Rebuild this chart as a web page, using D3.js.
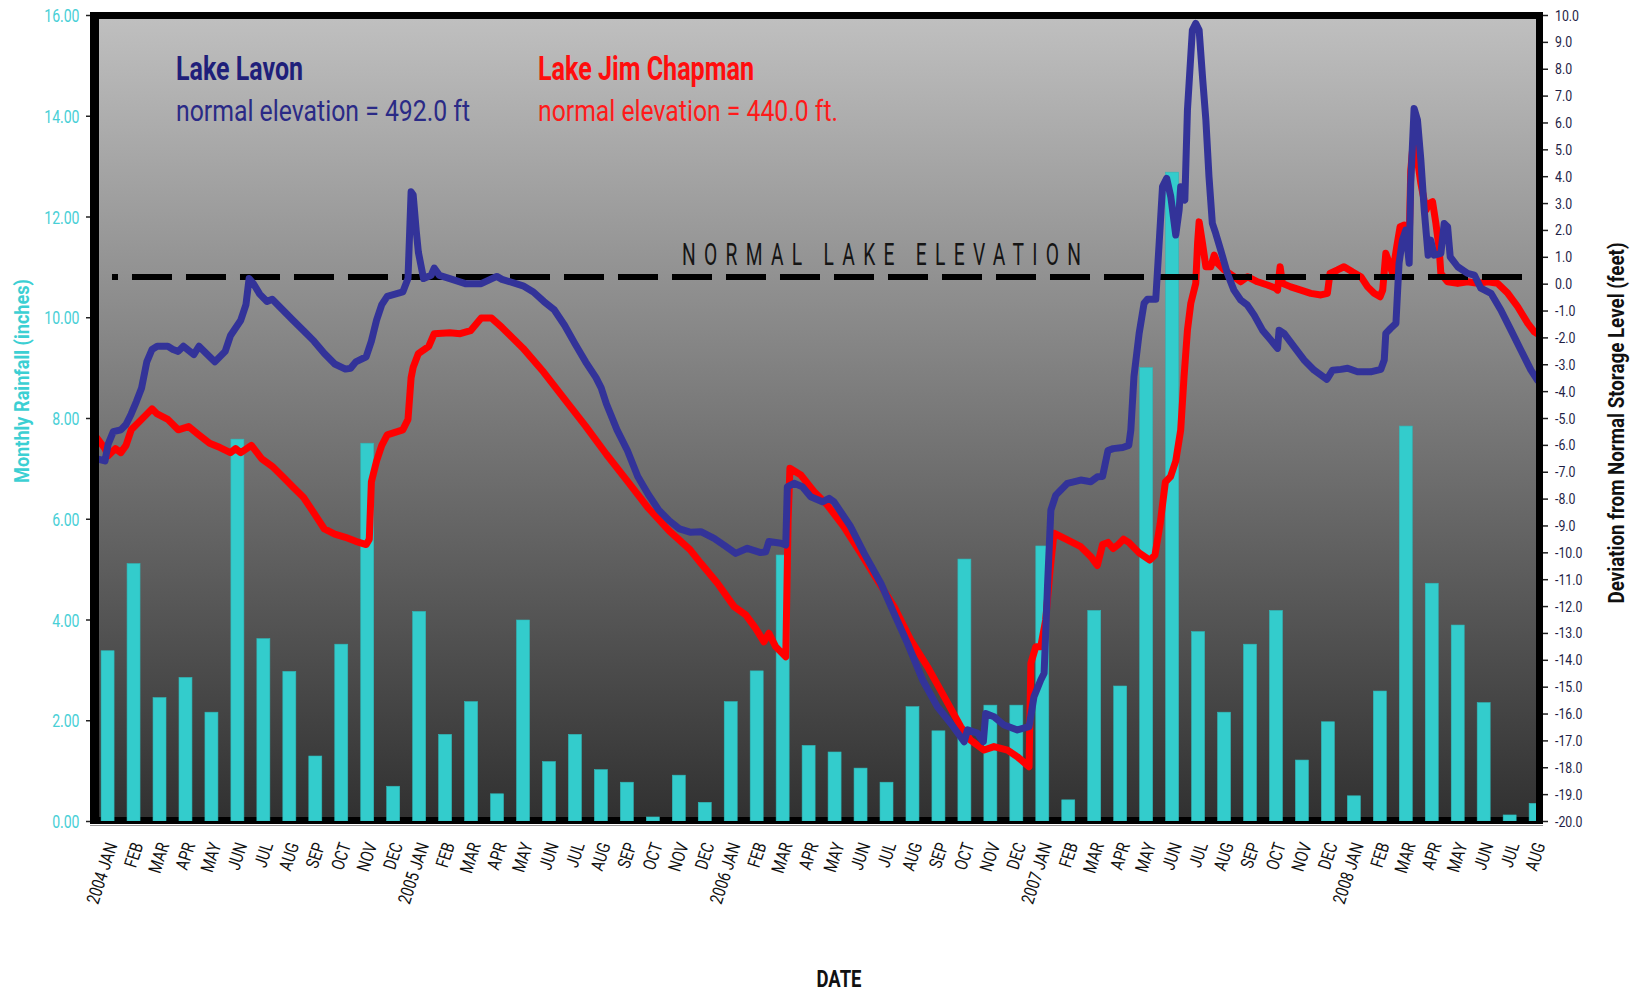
<!DOCTYPE html>
<html><head><meta charset="utf-8">
<script src="https://cdn.jsdelivr.net/npm/d3@7"></script>
<style>body{margin:0;background:#fff}svg{display:block}text{font-family:Roboto,"DejaVu Sans",sans-serif}</style>
</head><body>
<svg id="c" width="1638" height="996"></svg>
<script>
// ---------------- DATA ----------------
const monthLabels = [
 "2004 JAN","FEB","MAR","APR","MAY","JUN","JUL","AUG","SEP","OCT","NOV","DEC",
 "2005 JAN","FEB","MAR","APR","MAY","JUN","JUL","AUG","SEP","OCT","NOV","DEC",
 "2006 JAN","FEB","MAR","APR","MAY","JUN","JUL","AUG","SEP","OCT","NOV","DEC",
 "2007 JAN","FEB","MAR","APR","MAY","JUN","JUL","AUG","SEP","OCT","NOV","DEC",
 "2008 JAN","FEB","MAR","APR","MAY","JUN","JUL","AUG"];
// monthly rainfall (inches)
const rainfall = [
 3.38,5.11,2.45,2.85,2.16,7.58,3.62,2.97,1.29,3.51,7.50,0.69,
 4.16,1.72,2.37,0.54,3.99,1.18,1.72,1.02,0.77,0.08,0.91,0.37,
 2.37,2.98,5.28,1.50,1.37,1.05,0.77,2.27,1.79,5.20,2.30,2.30,
 5.46,0.42,4.18,2.68,9.00,12.88,3.76,2.16,3.51,4.18,1.21,1.97,
 0.50,2.58,7.84,4.72,3.89,2.35,0.12,0.35];
const leftTicks = [0,2,4,6,8,10,12,14,16];
const rightTicks = [-20,-19,-18,-17,-16,-15,-14,-13,-12,-11,-10,-9,-8,-7,-6,-5,-4,-3,-2,-1,0,1,2,3,4,5,6,7,8,9,10];
// [months since 1 Jan 2004, deviation from normal (ft)]
const lavon = [[0,-6.49],[0.40,-6.60],[0.52,-5.98],[0.72,-5.51],[1.01,-5.44],[1.21,-5.24],[1.41,-4.85],[1.61,-4.39],[1.81,-3.88],[2.01,-2.91],[2.21,-2.45],[2.41,-2.33],[2.82,-2.33],[3.02,-2.45],[3.22,-2.52],[3.42,-2.33],[3.82,-2.64],[4.02,-2.33],[4.43,-2.72],[4.63,-2.91],[5.03,-2.52],[5.23,-1.94],[5.63,-1.36],[5.83,-0.78],[5.95,0.19],[6.12,0.0],[6.36,-0.39],[6.64,-0.66],[6.84,-0.58],[7.24,-0.97],[7.64,-1.36],[8.05,-1.75],[8.45,-2.14],[8.85,-2.60],[9.25,-2.99],[9.66,-3.18],[9.86,-3.15],[10.06,-2.91],[10.46,-2.72],[10.66,-2.14],[10.86,-1.36],[11.06,-0.78],[11.27,-0.47],[11.87,-0.31],[12.07,0.19],[12.19,3.42],[12.27,3.30],[12.39,1.94],[12.47,1.17],[12.67,0.19],[12.96,0.31],[13.08,0.58],[13.28,0.31],[13.68,0.19],[14.28,0.0],[14.89,0.0],[15.49,0.27],[15.69,0.16],[16.50,-0.08],[16.90,-0.31],[17.30,-0.66],[17.70,-0.97],[18.10,-1.55],[18.51,-2.25],[18.91,-2.91],[19.31,-3.50],[19.51,-3.88],[19.71,-4.47],[20.12,-5.44],[20.52,-6.21],[20.92,-7.18],[21.32,-7.84],[21.73,-8.43],[22.13,-8.82],[22.53,-9.13],[22.93,-9.25],[23.35,-9.23],[23.86,-9.48],[24.24,-9.73],[24.69,-10.04],[25.14,-9.85],[25.65,-10.01],[25.85,-9.98],[25.97,-9.60],[26.43,-9.66],[26.62,-9.73],[26.68,-7.56],[26.94,-7.43],[27.26,-7.56],[27.58,-7.93],[28.03,-8.12],[28.29,-7.99],[28.48,-8.12],[29.12,-9.05],[29.64,-10.04],[30.28,-11.15],[30.79,-12.27],[31.31,-13.39],[31.89,-14.75],[32.46,-15.75],[32.97,-16.36],[33.49,-17.05],[33.62,-16.61],[34.00,-16.73],[34.23,-17.05],[34.32,-16.00],[34.64,-16.12],[35.03,-16.43],[35.54,-16.61],[35.99,-16.49],[36.18,-15.37],[36.44,-14.75],[36.57,-14.50],[36.70,-11.28],[36.83,-8.43],[37.02,-7.87],[37.47,-7.43],[37.98,-7.31],[38.37,-7.37],[38.62,-7.19],[38.82,-7.18],[39.03,-6.21],[39.23,-6.14],[39.60,-6.10],[39.83,-6.02],[39.91,-5.45],[40.03,-3.46],[40.23,-1.85],[40.42,-0.73],[40.55,-0.58],[40.87,-0.58],[41.00,1.50],[41.13,3.61],[41.29,3.92],[41.45,3.23],[41.64,1.81],[41.77,2.74],[41.83,3.61],[41.99,3.11],[42.09,6.46],[42.28,9.44],[42.41,9.69],[42.54,9.44],[42.67,7.70],[42.80,6.09],[42.92,3.98],[43.05,2.24],[43.18,1.87],[43.37,1.25],[43.63,0.38],[43.88,-0.24],[44.14,-0.61],[44.40,-0.80],[44.66,-1.17],[44.98,-1.73],[45.30,-2.10],[45.56,-2.41],[45.62,-1.73],[45.81,-1.85],[46.20,-2.35],[46.58,-2.84],[46.97,-3.22],[47.46,-3.56],[47.68,-3.22],[48.00,-3.19],[48.26,-3.15],[48.64,-3.28],[49.15,-3.28],[49.54,-3.19],[49.67,-2.84],[49.73,-1.85],[49.92,-1.66],[50.12,-1.48],[50.24,0.76],[50.37,1.62],[50.50,1.99],[50.63,0.76],[50.69,3.73],[50.82,6.52],[50.95,6.09],[51.08,4.60],[51.21,2.74],[51.36,1.06],[51.46,1.62],[51.59,1.06],[51.85,1.13],[51.98,2.24],[52.11,2.12],[52.21,1.00],[52.50,0.63],[52.88,0.38],[53.14,0.32],[53.39,-0.17],[53.78,-0.36],[54.16,-0.98],[54.55,-1.73],[54.93,-2.47],[55.32,-3.22],[55.57,-3.59]];
const chapman = [[0,-5.63],[0.40,-6.14],[0.52,-6.41],[0.80,-6.14],[1.01,-6.29],[1.21,-6.02],[1.41,-5.44],[1.81,-5.05],[2.21,-4.66],[2.41,-4.85],[2.82,-5.05],[3.22,-5.44],[3.62,-5.32],[4.02,-5.63],[4.43,-5.94],[4.83,-6.10],[5.23,-6.29],[5.43,-6.14],[5.63,-6.29],[6.04,-6.02],[6.44,-6.52],[6.84,-6.80],[7.24,-7.18],[7.64,-7.57],[8.05,-7.96],[8.45,-8.54],[8.85,-9.13],[9.25,-9.32],[9.66,-9.44],[10.06,-9.59],[10.46,-9.71],[10.58,-9.51],[10.66,-7.38],[10.86,-6.60],[11.06,-6.02],[11.27,-5.63],[11.87,-5.44],[12.07,-5.05],[12.19,-3.50],[12.27,-3.11],[12.47,-2.60],[12.87,-2.33],[13.08,-1.86],[13.68,-1.83],[14.08,-1.86],[14.48,-1.75],[14.89,-1.28],[15.29,-1.28],[15.69,-1.63],[16.50,-2.40],[17.30,-3.30],[18.10,-4.30],[18.91,-5.30],[19.71,-6.35],[20.52,-7.35],[21.32,-8.35],[22.13,-9.20],[22.93,-9.90],[23.35,-10.41],[23.99,-11.15],[24.63,-12.02],[25.08,-12.33],[25.46,-12.83],[25.78,-13.33],[25.97,-13.01],[26.23,-13.51],[26.62,-13.89],[26.71,-8.80],[26.78,-6.87],[27.20,-7.12],[27.71,-7.74],[28.22,-8.24],[28.86,-9.05],[29.51,-10.04],[30.15,-11.04],[30.79,-12.02],[31.43,-13.26],[32.08,-14.26],[32.72,-15.37],[33.36,-16.49],[33.74,-16.99],[34.26,-17.36],[34.64,-17.23],[35.16,-17.36],[35.54,-17.61],[35.99,-17.98],[36.06,-14.13],[36.25,-13.51],[36.44,-13.51],[36.63,-12.52],[36.80,-10.66],[36.95,-9.29],[37.47,-9.54],[37.98,-9.79],[38.37,-10.16],[38.62,-10.49],[38.82,-9.71],[39.03,-9.63],[39.23,-9.86],[39.43,-9.71],[39.63,-9.51],[39.83,-9.63],[40.23,-10.02],[40.64,-10.29],[40.84,-10.10],[41.04,-8.93],[41.24,-7.38],[41.44,-7.18],[41.64,-6.60],[41.83,-5.45],[41.96,-3.46],[42.09,-1.73],[42.22,-0.73],[42.41,0.01],[42.48,1.50],[42.54,2.30],[42.67,1.50],[42.80,0.63],[42.99,0.63],[43.12,1.06],[43.25,0.76],[43.51,0.51],[43.88,0.26],[44.14,0.07],[44.40,0.26],[44.79,0.07],[45.17,-0.05],[45.49,-0.17],[45.56,-0.24],[45.66,0.63],[45.75,0.01],[46.07,-0.12],[46.46,-0.24],[46.84,-0.36],[47.23,-0.42],[47.48,-0.36],[47.58,0.38],[47.87,0.51],[48.12,0.63],[48.44,0.44],[48.77,0.26],[49.03,-0.12],[49.28,-0.36],[49.51,-0.49],[49.61,-0.24],[49.73,1.13],[49.86,0.76],[49.99,0.38],[50.15,1.37],[50.28,2.12],[50.44,2.18],[50.63,1.50],[50.69,4.20],[50.78,5.20],[50.88,4.90],[50.95,4.60],[51.08,3.73],[51.28,2.74],[51.40,2.99],[51.53,3.05],[51.66,2.24],[51.79,1.25],[51.85,0.38],[52.11,0.07],[52.50,0.01],[52.88,0.07],[53.27,0.01],[53.66,0.07],[54.04,0.01],[54.43,-0.36],[54.81,-0.86],[55.20,-1.48],[55.45,-1.79],[55.65,-1.91]];
const normalLevel = 0.25;          // ft, dashed "normal lake elevation" line
const normalSpan = [0.67, 55.18];  // months covered by dashed line

// ---------------- LAYOUT ----------------
const svg = d3.select("#c");
const inner = {x0: 99, y0: 19, x1: 1536, y1: 817};
const xBand = d3.scaleBand().domain(d3.range(rainfall.length)).range([94.6, 1548.6]).paddingInner(0.5).paddingOuter(0.25);
const xT = d3.scaleLinear().domain([0, 56]).range([94.6, 1548.6]);
const yL = d3.scaleLinear().domain([0, 16]).range([821, 15]);
const yR = d3.scaleLinear().domain([-20, 10]).range([821, 15]);

const defs = svg.append("defs");
const grad = defs.append("linearGradient").attr("id","bg").attr("x1",0).attr("y1",0).attr("x2",0).attr("y2",1);
grad.append("stop").attr("offset","0%").attr("stop-color","#bfbfbf");
grad.append("stop").attr("offset","100%").attr("stop-color","#313131");
defs.append("clipPath").attr("id","clip").append("rect")
  .attr("x", inner.x0).attr("y", inner.y0).attr("width", inner.x1-inner.x0).attr("height", 821-inner.y0);

// frame
svg.append("rect").attr("x",90).attr("y",12).attr("width",1453).attr("height",812).attr("fill","#000");
svg.append("rect").attr("x",inner.x0).attr("y",inner.y0).attr("width",inner.x1-inner.x0).attr("height",inner.y1-inner.y0).attr("fill","url(#bg)");
svg.append("line").attr("x1",90).attr("x2",1543).attr("y1",825.5).attr("y2",825.5).attr("stroke","#999").attr("stroke-width",1);

const plot = svg.append("g").attr("clip-path","url(#clip)");
// bars
plot.append("g").selectAll("rect").data(rainfall).join("rect")
  .attr("x",(d,i)=>xBand(i)).attr("width",xBand.bandwidth())
  .attr("y",d=>yL(d)).attr("height",d=>yL(0)-yL(d))
  .attr("fill","#33cccc").attr("stroke","#2fb8b8").attr("stroke-width",0.6);

const line = d3.line().x(d=>xT(d[0])).y(d=>yR(d[1]));
plot.append("path").datum(chapman).attr("d",line).attr("fill","none")
  .attr("stroke","#ff0000").attr("stroke-width",7).attr("stroke-linejoin","round").attr("stroke-linecap","round");
// normal elevation dashed line
plot.append("line").attr("x1",xT(normalSpan[0])).attr("x2",xT(normalSpan[1]))
  .attr("y1",yR(normalLevel)).attr("y2",yR(normalLevel))
  .attr("stroke","#000").attr("stroke-width",6).attr("stroke-dasharray","40,14").attr("stroke-dashoffset",34);
plot.append("path").datum(lavon).attr("d",line).attr("fill","none")
  .attr("stroke","#333399").attr("stroke-width",7).attr("stroke-linejoin","round").attr("stroke-linecap","round");

// ---------------- AXES ----------------
const gl = svg.append("g").attr("transform","translate(90,0)")
  .call(d3.axisLeft(yL).tickValues(leftTicks).tickFormat(d=>d.toFixed(2)).tickSize(4));
gl.select(".domain").remove();
gl.selectAll(".tick line").attr("stroke","#222").attr("stroke-width",1.5);
gl.selectAll(".tick text").attr("x",null).attr("dy",null).attr("y",6.5)
  .attr("transform","translate(-10.5,0) scale(0.78,1)")
  .attr("fill","#48cfd6").style("font-size","18px").style("text-anchor","end");

const gr = svg.append("g").attr("transform","translate(1543,0)")
  .call(d3.axisRight(yR).tickValues(rightTicks).tickFormat(d=>d.toFixed(1)).tickSize(5));
gr.select(".domain").remove();
gr.selectAll(".tick line").attr("stroke","#222").attr("stroke-width",1.5);
gr.selectAll(".tick text").attr("x",null).attr("dy",null).attr("y",5)
  .attr("transform","translate(12,0) scale(0.88,1)")
  .attr("fill","#1e1e46").style("font-size","14px").style("text-anchor","start");

const gx = svg.append("g").attr("transform","translate(0,830)")
  .call(d3.axisBottom(xBand).tickFormat(i=>monthLabels[i]).tickSize(0));
gx.select(".domain").remove();
gx.selectAll(".tick text").attr("x",null).attr("y",null).attr("dy",null)
  .attr("transform","translate(10,15) rotate(-72) scale(0.8,1)")
  .attr("fill","#111").style("font-size","18px").style("text-anchor","end");

// ---------------- TITLES / LABELS ----------------
function txt(str, x, y, o) {
  const t = svg.append("text").text(str)
    .attr("transform", `translate(${x},${y})` + (o.rot ? ` rotate(${o.rot})` : "") + (o.sx ? ` scale(${o.sx},1)` : ""))
    .attr("fill", o.fill || "#000").style("font-size", o.size + "px")
    .style("font-weight", o.bold ? "bold" : "normal")
    .style("text-anchor", o.anchor || "start");
  if (o.len) t.attr("textLength", o.len).attr("lengthAdjust", o.adjust || "spacingAndGlyphs");
  return t;
}
txt("Monthly Rainfall (inches)", 29, 381, {rot:-90, size:21, bold:true, fill:"#3ccfd3", anchor:"middle", len:204});
txt("Deviation from Normal Storage Level (feet)", 1624, 423, {rot:-90, size:22, bold:true, fill:"#111", anchor:"middle", len:361});
txt("DATE", 839, 987, {size:23, bold:true, fill:"#111", anchor:"middle", len:45});

txt("Lake Lavon", 176, 80, {size:33, bold:true, fill:"#1f1f7a", len:127});
txt("normal elevation = 492.0 ft", 176, 121, {size:30, fill:"#2a2a86", len:294});
txt("Lake Jim Chapman", 538, 80, {size:33, bold:true, fill:"#ff0d0d", len:216});
txt("normal elevation = 440.0 ft.", 538, 121, {size:30, fill:"#ff1a1a", len:300});
txt("NORMAL LAKE ELEVATION", 682, 265, {size:31, fill:"#151515", sx:0.62, len:399/0.62, adjust:"spacing"});
</script>
</body></html>
